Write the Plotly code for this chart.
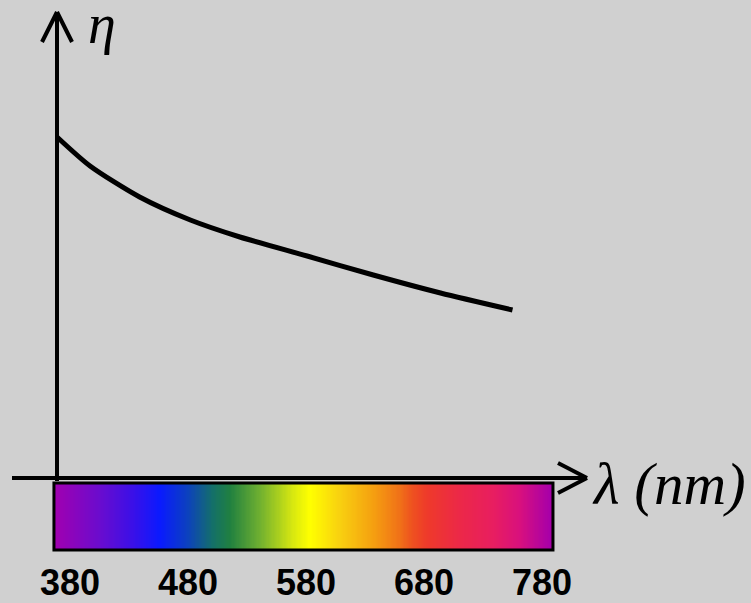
import numpy as np
import plotly.graph_objects as go

W, H = 751, 603

# Dispersion curve: refractive index (arbitrary units) versus wavelength (nm)
wavelength_nm = [369, 397, 439, 482, 524, 581, 637, 694, 755]
eta = [3.41, 3.12, 2.81, 2.58, 2.41, 2.22, 2.03, 1.85, 1.68]

# Tick labels under the spectrum strip
tick_values = [380, 480, 580, 680, 780]
tick_labels = ["380", "480", "580", "680", "780"]

# Colour stops of the visible spectrum strip
spectrum_nm = [367.3, 405.4, 433.4, 456.3, 479.2, 501.2, 515.6, 541.0, 569.0,
               583.4, 608.8, 636.8, 659.7, 670.7, 682.5, 710.5, 738.5, 761.4, 786.8]
spectrum_colors = ["#A000B0", "#6A0CCE", "#3A10E8", "#0A1AFF", "#0C40C0", "#147068",
                   "#208040", "#70B030", "#D8E810", "#FFFF00", "#F8D010", "#F5A010",
                   "#F07018", "#EE5020", "#EE3A2A", "#EC2848", "#E81E60", "#D8107E",
                   "#A800A8"]
strip_nm = (366.4, 789.3)
strip_eta = (-0.72, -0.05)

# Axis scales: 1.18 px per nm, 100 px per unit of eta, zero margins
X_RANGE = [380 - 70 / 1.18, 380 + (W - 70) / 1.18]
Y_RANGE = [(478 - H) / 100, 478 / 100]

BG = "#D0D0D0"


def px(x):
    return x / W


def py(y):
    return 1 - y / H


fig = go.Figure()

# spectrum strip as a one-row heatmap
n = 400
edges = np.linspace(strip_nm[0], strip_nm[1], n + 1)
centers = (edges[:-1] + edges[1:]) / 2
lo, hi = spectrum_nm[0], spectrum_nm[-1]
cscale = [[(v - lo) / (hi - lo), c] for v, c in zip(spectrum_nm, spectrum_colors)]
fig.add_trace(go.Heatmap(
    x=edges, y=list(strip_eta), z=[list(centers)],
    zmin=lo, zmax=hi, colorscale=cscale, showscale=False, hoverinfo="skip",
))

# dispersion curve
fig.add_trace(go.Scatter(
    x=wavelength_nm, y=eta, mode="lines",
    line=dict(color="black", width=5, shape="spline", smoothing=0.7),
    hoverinfo="skip", showlegend=False,
))

shapes = []
ax = dict(type="line", xref="paper", yref="paper", line=dict(color="black", width=4))
# vertical axis with open arrowhead
shapes.append(dict(ax, x0=px(57), y0=py(481), x1=px(57), y1=py(13)))
shapes.append(dict(ax, x0=px(42), y0=py(42), x1=px(57), y1=py(12)))
shapes.append(dict(ax, x0=px(72), y0=py(42), x1=px(57), y1=py(12)))
# horizontal axis with open arrowhead
shapes.append(dict(ax, x0=px(12), y0=py(478), x1=px(586), y1=py(478)))
shapes.append(dict(ax, x0=px(558), y0=py(463), x1=px(587), y1=py(478)))
shapes.append(dict(ax, x0=px(558), y0=py(493), x1=px(587), y1=py(478)))
# outline of the spectrum strip
shapes.append(dict(type="rect", xref="x", yref="y",
                   x0=strip_nm[0], x1=strip_nm[1], y0=strip_eta[0], y1=strip_eta[1],
                   line=dict(color="black", width=3), fillcolor="rgba(0,0,0,0)"))

annotations = []
for v, t in zip(tick_values, tick_labels):
    annotations.append(dict(
        x=v, y=(478 - 582.5) / 100, xref="x", yref="y", text=f"<b>{t}</b>",
        showarrow=False, xanchor="center", yanchor="middle",
        font=dict(family="Liberation Sans", size=36, color="black"),
    ))
annotations.append(dict(
    x=px(590), y=py(484), xref="paper", yref="paper", text="<i>λ (nm)</i>",
    showarrow=False, xanchor="left", yanchor="middle",
    font=dict(family="Liberation Serif", size=59, color="black"),
))
annotations.append(dict(
    x=px(86), y=py(24), xref="paper", yref="paper", text="<i>η</i>",
    showarrow=False, xanchor="left", yanchor="middle",
    font=dict(family="Liberation Serif", size=56, color="black"),
))

fig.update_layout(
    width=W, height=H,
    margin=dict(l=0, r=0, t=0, b=0),
    paper_bgcolor=BG, plot_bgcolor=BG,
    xaxis=dict(range=X_RANGE, visible=False, fixedrange=True),
    yaxis=dict(range=Y_RANGE, visible=False, fixedrange=True),
    shapes=shapes, annotations=annotations,
    showlegend=False,
)

fig.write_html("out.html", config=dict(displayModeBar=False))
